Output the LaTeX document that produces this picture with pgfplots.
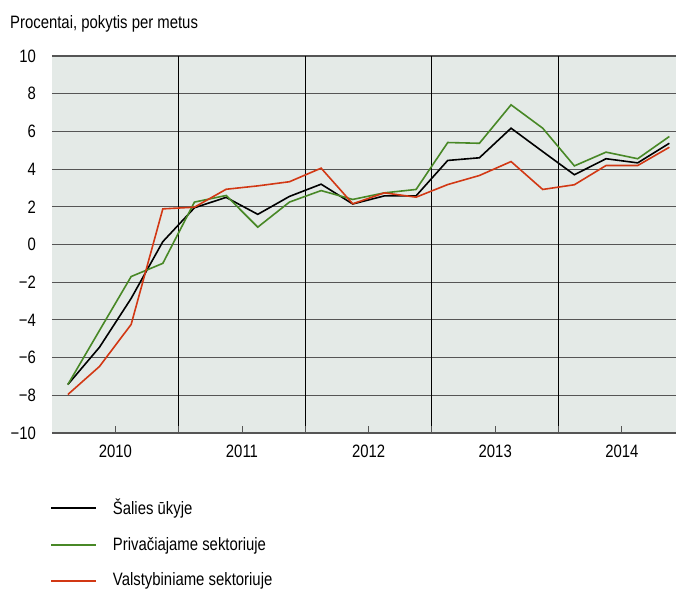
\documentclass[border=0pt]{standalone}
\usepackage{fontspec}
\setmainfont{Liberation Sans}[FakeStretch=0.83]
\usepackage{pgfplots}
\pgfplotsset{compat=1.18}
\definecolor{bgcol}{RGB}{228,234,231}
\definecolor{gridcol}{RGB}{85,85,85}
\definecolor{grn}{RGB}{72,136,38}
\definecolor{rd}{RGB}{210,56,20}
\begin{document}
\fontsize{18}{21}\selectfont
\begin{tikzpicture}
\useasboundingbox (-52bp,-157bp) rectangle (624bp,433bp);
\begin{axis}[
  at={(0,0)}, anchor=south west, scale only axis,
  width=624bp, height=377bp,
  xmin=-0.5, xmax=19.21, ymin=-10, ymax=10,
  axis line style={draw=none},
  axis background/.style={fill=bgcol},
  clip=false,
  tick pos=left,
  ytick={-10,-8,...,10},
  yticklabels={−10,−8,−6,−4,−2,0,2,4,6,8,10},
  ytick style={draw=none},
  ymajorgrids, 
  major grid style={draw=gridcol, line width=1.1bp},
  yticklabel style={font=\fontsize{18}{21}\selectfont, xshift=-10bp},
  xtick={1.5,5.5,9.5,13.5,17.5},
  xticklabels={2010,2011,2012,2013,2014},
  xticklabel style={font=\fontsize{18}{21}\selectfont, yshift=-6bp},
  tick align=inside,
  xtick style={draw=gridcol, line width=0.9bp},
  major tick length=7bp,
  extra x ticks={3.5,7.5,11.5,15.5},
  extra x tick labels={},
  extra x tick style={xmajorgrids, major grid style={draw=black, line width=0.9bp}, tick style={draw=none}},
  legend style={at={(0,0)}, anchor=north west, xshift=-5bp, yshift=-62bp, draw=none, fill=none,
    font=\fontsize{18}{21}\selectfont, row sep=15.7bp, cells={anchor=west}},
  legend cell align=left,
  legend image code/.code={\draw[#1, line width=2bp] (0bp,0bp) -- (45bp,0bp); \path (59bp,0bp);},
  every axis plot/.append style={line width=1.6bp},
]
\addplot[black] coordinates {
(0,-7.43) (1,-5.45) (2,-2.86) (3,0.15)
(4,1.95) (5,2.5) (6,1.6) (7,2.55)
(8,3.2) (9,2.15) (10,2.58) (11,2.58)
(12,4.46) (13,4.6) (14,6.17) (15,4.93)
(16,3.7) (17,4.55) (18,4.33) (19,5.37)};
\addlegendentry{Šalies ūkyje}
\addplot[grn] coordinates {
(0,-7.43) (1,-4.56) (2,-1.7) (3,-1.0)
(4,2.25) (5,2.6) (6,0.92) (7,2.25)
(8,2.86) (9,2.39) (10,2.74) (11,2.92)
(12,5.41) (13,5.37) (14,7.41) (15,6.17)
(16,4.17) (17,4.9) (18,4.55) (19,5.73)};
\addlegendentry{Privačiajame sektoriuje}
\addplot[rd] coordinates {
(0,-7.96) (1,-6.47) (2,-4.24) (3,1.89)
(4,1.98) (5,2.93) (6,3.11) (7,3.33)
(8,4.05) (9,2.16) (10,2.74) (11,2.51)
(12,3.18) (13,3.66) (14,4.40) (15,2.92)
(16,3.17) (17,4.19) (18,4.19) (19,5.16)};
\addlegendentry{Valstybiniame sektoriuje}
\end{axis}
\node[anchor=base west, inner sep=0pt, font=\fontsize{18}{21}\selectfont] at (-42bp,404bp) {Procentai, pokytis per metus};
\end{tikzpicture}
\end{document}
